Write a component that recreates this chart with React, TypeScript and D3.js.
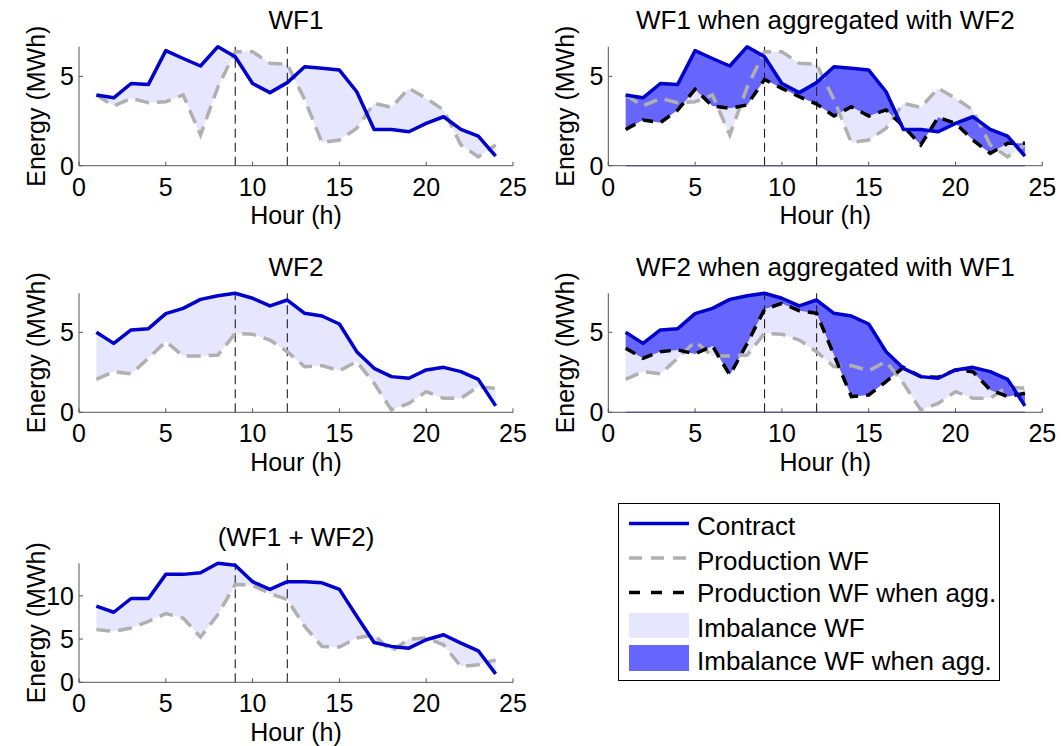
import React from "react";
import * as d3 from "d3";

const hours: number[] = d3.range(1, 25);
const xTicks = [0, 5, 10, 15, 20, 25];
const markHours = [9, 12];

const wf1Contract = [3.96, 3.8, 4.6, 4.55, 6.44, 6.0, 5.58, 6.66, 6.1, 4.6, 4.09, 4.65, 5.54, 5.45, 5.35, 4.14, 2.03, 2.03, 1.9, 2.37, 2.74, 2.03, 1.66, 0.54];
const wf1Prod = [3.96, 3.34, 3.77, 3.53, 3.58, 3.96, 1.72, 4.4, 6.38, 6.38, 5.73, 5.67, 3.7, 1.29, 1.44, 2.09, 3.5, 3.26, 4.33, 3.77, 3.12, 1.16, 0.5, 1.16];
const wf1Agg = [2.03, 2.56, 2.41, 3.12, 4.27, 3.34, 3.21, 3.4, 4.83, 4.33, 3.86, 3.45, 2.78, 3.3, 2.78, 3.12, 2.2, 1.16, 2.71, 2.37, 1.44, 0.69, 1.25, 1.25];

const wf2Contract = [5.0, 4.31, 5.15, 5.23, 6.17, 6.5, 7.06, 7.29, 7.44, 7.13, 6.65, 7.02, 6.19, 6.02, 5.52, 3.79, 2.75, 2.23, 2.13, 2.65, 2.81, 2.54, 2.06, 0.4];
const wf2Prod = [2.06, 2.54, 2.4, 3.38, 4.42, 3.52, 3.52, 3.58, 4.94, 4.88, 4.52, 3.79, 2.85, 2.92, 2.6, 3.17, 1.81, 0.15, 0.56, 1.29, 0.88, 0.88, 1.6, 1.5];
const wf2Agg = [4.0, 3.38, 3.79, 3.9, 3.65, 4.15, 2.33, 4.3, 6.44, 6.81, 6.35, 6.19, 3.58, 0.98, 1.08, 1.92, 2.81, 2.23, 2.19, 2.65, 2.54, 1.4, 0.98, 1.19];

const sumContract = [8.8, 8.1, 9.69, 9.69, 12.48, 12.48, 12.67, 13.76, 13.53, 11.63, 10.74, 11.63, 11.63, 11.51, 10.74, 7.64, 4.61, 4.15, 3.95, 4.92, 5.5, 4.53, 3.64, 0.97];
const sumProd = [6.09, 5.89, 6.28, 7.05, 7.95, 7.44, 5.23, 7.83, 11.32, 11.2, 10.27, 9.57, 6.47, 4.15, 4.07, 5.12, 5.5, 3.57, 5.0, 5.12, 4.34, 1.82, 2.02, 2.6];

const FONT = "'Liberation Sans', Arial, Helvetica, sans-serif";
const FS = 26;
const TICK_FS = 25;
const BLUE = "#0000cc";
const GREY = "#b0b0b0";
const LIGHT = "#e6e6ff";
const DARK = "#6666ff";
const AXIS = "#555";

type PanelProps = {
  title: string;
  left: number;
  top: number;
  contract: number[];
  prod: number[];
  agg?: number[];
  yTicks: number[];
};

const W = 434;
const H = 119;

function Panel({ title, left, top, contract, prod, agg, yTicks }: PanelProps) {
  const yMax = d3.max([...contract, ...prod, ...(agg || [])]) as number;
  const x = d3.scaleLinear().domain([0, 25]).range([left, left + W]);
  const y = d3.scaleLinear().domain([0, yMax]).range([top + H, top]);

  const line = (vals: number[]) =>
    d3.line<number>().x((_, i) => x(hours[i])).y((d) => y(d))(vals) || "";
  const band = (hi: number[], lo: number[]) =>
    d3
      .area<number>()
      .x((_, i) => x(hours[i]))
      .y1((d) => y(d))
      .y0((_, i) => y(lo[i]))(hi) || "";

  const cx = left + W / 2;
  return (
    <g>
      <path d={band(contract, prod)} fill={LIGHT} />
      {agg && <path d={band(contract, agg)} fill={DARK} />}
      {agg && (
        <line x1={x(1)} x2={x(24)} y1={y(0)} y2={y(0)} stroke="#8080d8" strokeWidth={1.5} />
      )}
      {markHours.map((h) => (
        <line key={h} x1={x(h)} x2={x(h)} y1={y(0)} y2={top} stroke="#222" strokeWidth={1.1} strokeDasharray="9,5" />
      ))}
      <path d={line(prod)} fill="none" stroke={GREY} strokeWidth={3.5} strokeDasharray="14,8" />
      {agg && <path d={line(agg)} fill="none" stroke="#000" strokeWidth={3.5} strokeDasharray="11,8" />}
      <path d={line(contract)} fill="none" stroke={BLUE} strokeWidth={3.5} strokeLinejoin="round" />

      {/* axes */}
      <line x1={left} x2={left} y1={top} y2={top + H} stroke={AXIS} strokeWidth={1} />
      <line x1={left} x2={left + W} y1={top + H} y2={top + H} stroke={AXIS} strokeWidth={1} />
      {xTicks.map((t) => (
        <g key={t}>
          <line x1={x(t)} x2={x(t)} y1={top + H} y2={top + H - 4} stroke={AXIS} />
          <text x={x(t)} y={top + H + 30} textAnchor="middle" fontSize={TICK_FS} fontFamily={FONT}>
            {t}
          </text>
        </g>
      ))}
      {yTicks.map((t) => (
        <g key={t}>
          <line x1={left} x2={left + 4} y1={y(t)} y2={y(t)} stroke={AXIS} />
          <text x={left - 5} y={y(t)} dy="0.36em" textAnchor="end" fontSize={TICK_FS} fontFamily={FONT}>
            {t}
          </text>
        </g>
      ))}
      <text x={cx} y={top - 17.5} textAnchor="middle" fontSize={FS} fontFamily={FONT}>
        {title}
      </text>
      <text x={cx} y={top + H + 58.5} textAnchor="middle" fontSize={TICK_FS} fontFamily={FONT}>
        Hour (h)
      </text>
      <text
        transform={`translate(${left - 34},${top + H / 2}) rotate(-90)`}
        textAnchor="middle"
        fontSize={TICK_FS}
        fontFamily={FONT}
      >
        Energy (MWh)
      </text>
    </g>
  );
}

function Legend() {
  const lx = 629;
  const tx = 697;
  return (
    <g fontFamily={FONT} fontSize={FS}>
      <rect x={618.5} y={503.5} width={381} height={177} fill="#fff" stroke="#000" strokeWidth={1} />
      <line x1={lx} x2={689} y1={523.5} y2={523.5} stroke={BLUE} strokeWidth={3.5} />
      <text x={tx} y={535}>Contract</text>
      <line x1={lx} x2={689} y1={558} y2={558} stroke={GREY} strokeWidth={3.5} strokeDasharray="13,9" />
      <text x={tx} y={570}>Production WF</text>
      <line x1={lx} x2={689} y1={592.5} y2={592.5} stroke="#000" strokeWidth={3.5} strokeDasharray="11,11" />
      <text x={tx} y={602}>Production WF when agg.</text>
      <rect x={lx} y={613} width={60} height={25} fill={LIGHT} />
      <text x={tx} y={637}>Imbalance WF</text>
      <rect x={lx} y={645} width={60} height={26} fill={DARK} />
      <text x={tx} y={670}>Imbalance WF when agg.</text>
    </g>
  );
}

export default function App() {
  return (
    <svg width={1061} height={746} style={{ position: "absolute", left: 0, top: 0, background: "#fff" }}>
      <rect width={1061} height={746} fill="#fff" />
      <Panel title="WF1" left={79} top={46.7} contract={wf1Contract} prod={wf1Prod} yTicks={[0, 5]} />
      <Panel
        title="WF1 when aggregated with WF2"
        left={608.3}
        top={46.7}
        contract={wf1Contract}
        prod={wf1Prod}
        agg={wf1Agg}
        yTicks={[0, 5]}
      />
      <Panel title="WF2" left={79} top={293.3} contract={wf2Contract} prod={wf2Prod} yTicks={[0, 5]} />
      <Panel
        title="WF2 when aggregated with WF1"
        left={608.3}
        top={293.3}
        contract={wf2Contract}
        prod={wf2Prod}
        agg={wf2Agg}
        yTicks={[0, 5]}
      />
      <Panel title="(WF1 + WF2)" left={79} top={563.3} contract={sumContract} prod={sumProd} yTicks={[0, 5, 10]} />
      <Legend />
    </svg>
  );
}
